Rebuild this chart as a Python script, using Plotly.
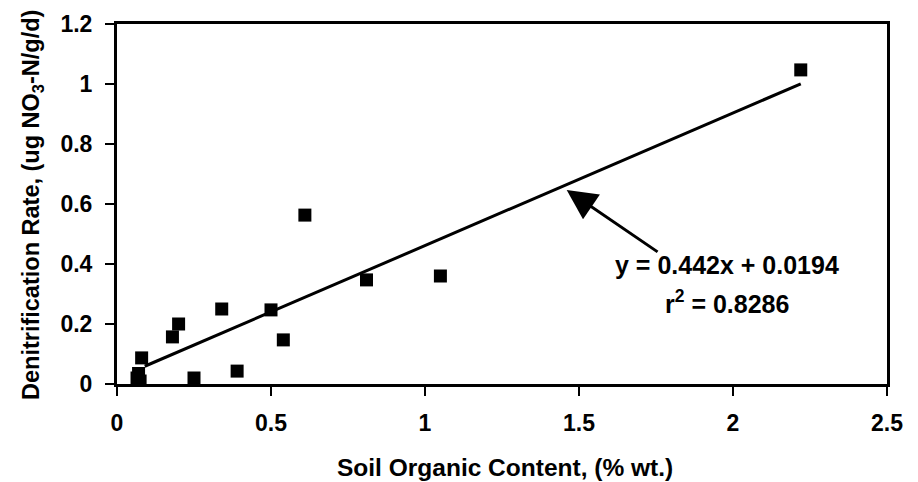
import plotly.graph_objects as go

soil_organic = [0.065, 0.07, 0.075, 0.08, 0.18, 0.20, 0.25, 0.34, 0.39, 0.50, 0.54, 0.61, 0.81, 1.05, 2.22]
denit_rate = [0.02, 0.035, 0.01, 0.087, 0.157, 0.20, 0.02, 0.25, 0.043, 0.247, 0.147, 0.563, 0.347, 0.36, 1.047]

slope = 0.442
intercept = 0.0194
fit_x = [0.09, 2.22]
fit_y = [slope * x + intercept for x in fit_x]

x_ticks = [0, 0.5, 1, 1.5, 2, 2.5]
x_tick_labels = ["0", "0.5", "1", "1.5", "2", "2.5"]
y_ticks = [0, 0.2, 0.4, 0.6, 0.8, 1, 1.2]
y_tick_labels = ["0", "0.2", "0.4", "0.6", "0.8", "1", "1.2"]

x_title = "Soil Organic Content, (% wt.)"
y_title = "Denitrification Rate, (ug NO<sub>3</sub>-N/g/d)"

FONT = "Liberation Sans, Arial, sans-serif"

fig = go.Figure()
fig.add_trace(go.Scatter(x=fit_x, y=fit_y, mode="lines",
                         line=dict(color="black", width=3), showlegend=False))
fig.add_trace(go.Scatter(x=soil_organic, y=denit_rate, mode="markers",
                         marker=dict(symbol="square", size=13, color="black"),
                         showlegend=False))

fig.add_annotation(x=1.46, y=0.647, ax=1.76, ay=0.437, xref="x", yref="y",
                   axref="x", ayref="y", text="", showarrow=True,
                   arrowhead=2, arrowsize=2.0, arrowwidth=3, arrowcolor="black")
fig.add_annotation(x=1.98, y=0.397, xref="x", yref="y", showarrow=False,
                   text="<b>y = 0.442x + 0.0194</b>",
                   font=dict(family=FONT, size=25, color="black"))
fig.add_annotation(x=1.98, y=0.272, xref="x", yref="y", showarrow=False,
                   text="<b>r<sup>2</sup> = 0.8286</b>",
                   font=dict(family=FONT, size=25, color="black"))

# axis titles (paper coords relative to plot area: left 117, right 887, top 24, bottom 384)
fig.add_annotation(x=(505 - 117) / 770, y=-(467 - 384) / 360, xref="paper", yref="paper",
                   showarrow=False, xanchor="center", yanchor="middle",
                   text="<b>%s</b>" % x_title, font=dict(family=FONT, size=24.5, color="black"))
fig.add_annotation(x=-(117 - 32) / 770, y=(384 - 205) / 360, xref="paper", yref="paper",
                   showarrow=False, textangle=-90, xanchor="center", yanchor="middle",
                   text="<b>%s</b>" % y_title, font=dict(family=FONT, size=23.5, color="black"))

fig.update_layout(
    width=918, height=482,
    margin=dict(l=117, r=31, t=24, b=98),
    paper_bgcolor="white", plot_bgcolor="white",
    font=dict(family=FONT, color="black"),
    xaxis=dict(range=[0, 2.5], tickvals=x_ticks, ticktext=["<b>%s</b>" % t for t in x_tick_labels],
               showgrid=False, zeroline=False, showline=True, linecolor="black", linewidth=3,
               mirror=True, ticks="outside", ticklen=9, tickwidth=2, tickcolor="black",
               tickfont=dict(family=FONT, size=23, color="black"), ticklabelstandoff=7,
               automargin=False),
    yaxis=dict(range=[0, 1.2], tickvals=y_ticks, ticktext=["<b>%s</b>" % t for t in y_tick_labels],
               showgrid=False, zeroline=False, showline=True, linecolor="black", linewidth=3,
               mirror=True, ticks="outside", ticklen=9, tickwidth=2, tickcolor="black",
               tickfont=dict(family=FONT, size=23, color="black"), ticklabelstandoff=8,
               automargin=False),
)

fig.write_html("out.html", config={"displayModeBar": False},
               post_script="document.body.style.margin='0';")
